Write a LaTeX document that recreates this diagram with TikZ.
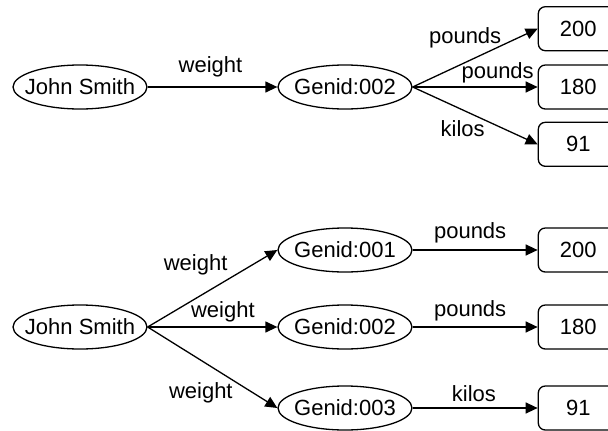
\documentclass[tikz,border=0pt]{standalone}
\usepackage{fontspec}
\setmainfont{Liberation Sans}
\usetikzlibrary{shapes.geometric,arrows.meta,positioning}

\begin{document}
\begin{tikzpicture}[x=1pt,y=-1pt,
  font=\fontsize{22}{26}\selectfont,
  ent/.style={draw,ellipse,line width=1.3pt,minimum width=134pt,
    minimum height=44pt,inner xsep=-9pt,inner ysep=0pt},
  val/.style={draw,rounded corners=7pt,line width=1.3pt,minimum width=80pt,
    minimum height=44pt},
  arrow/.style={-{Triangle[length=12pt,width=11pt]},line width=1.3pt},
  lbl/.style={inner sep=0pt},
]
  \useasboundingbox (0,0) rectangle (608,431);
  \clip (0,0) rectangle (608,431);

  % one genid, three values
  \node[ent] (js1) at (80,87) {John Smith};
  \node[ent] (g2a) at (345,87) {Genid:002};
  \node[val,right=125pt of g2a] (b2) {180};
  \node[val,above=13pt of b2] (b1) {200};
  \node[val,below=12pt of b2] (b3) {91};
  \draw[arrow] (js1) -- node[lbl,pos=.5,xshift=-2pt,yshift=20pt] {weight} (g2a);
  \draw[arrow] (g2a.east) -- node[lbl,pos=.42,yshift=25pt] {pounds} (b1.west);
  \draw[arrow] (g2a.east) -- node[lbl,pos=.68,yshift=14pt] {pounds} (b2.west);
  \draw[arrow] (g2a.east) -- node[lbl,pos=.4,yshift=-19pt] {kilos} (b3.west);

  % one genid per value
  \node[ent] (js2) at (80,327) {John Smith};
  \node[ent] (g1) at (345,250) {Genid:001};
  \node[ent] (g2) at (345,327) {Genid:002};
  \node[ent] (g3) at (345,408) {Genid:003};
  \node[val,right=125pt of g1] (c1) {200};
  \node[val,right=125pt of g2] (c2) {180};
  \node[val,right=125pt of g3] (c3) {91};
  \draw[arrow] (js2.east) -- node[lbl,pos=.37,yshift=34pt] {weight} (g1.west);
  \draw[arrow] (js2) -- node[lbl,pos=.58,yshift=15pt] {weight} (g2);
  \draw[arrow] (js2.east) -- node[lbl,pos=.41,yshift=-33pt] {weight} (g3.west);
  \draw[arrow] (g1) -- node[lbl,pos=.46,yshift=17pt] {pounds} (c1);
  \draw[arrow] (g2) -- node[lbl,pos=.46,yshift=16pt] {pounds} (c2);
  \draw[arrow] (g3) -- node[lbl,pos=.49,yshift=14pt] {kilos} (c3);
\end{tikzpicture}
\end{document}
